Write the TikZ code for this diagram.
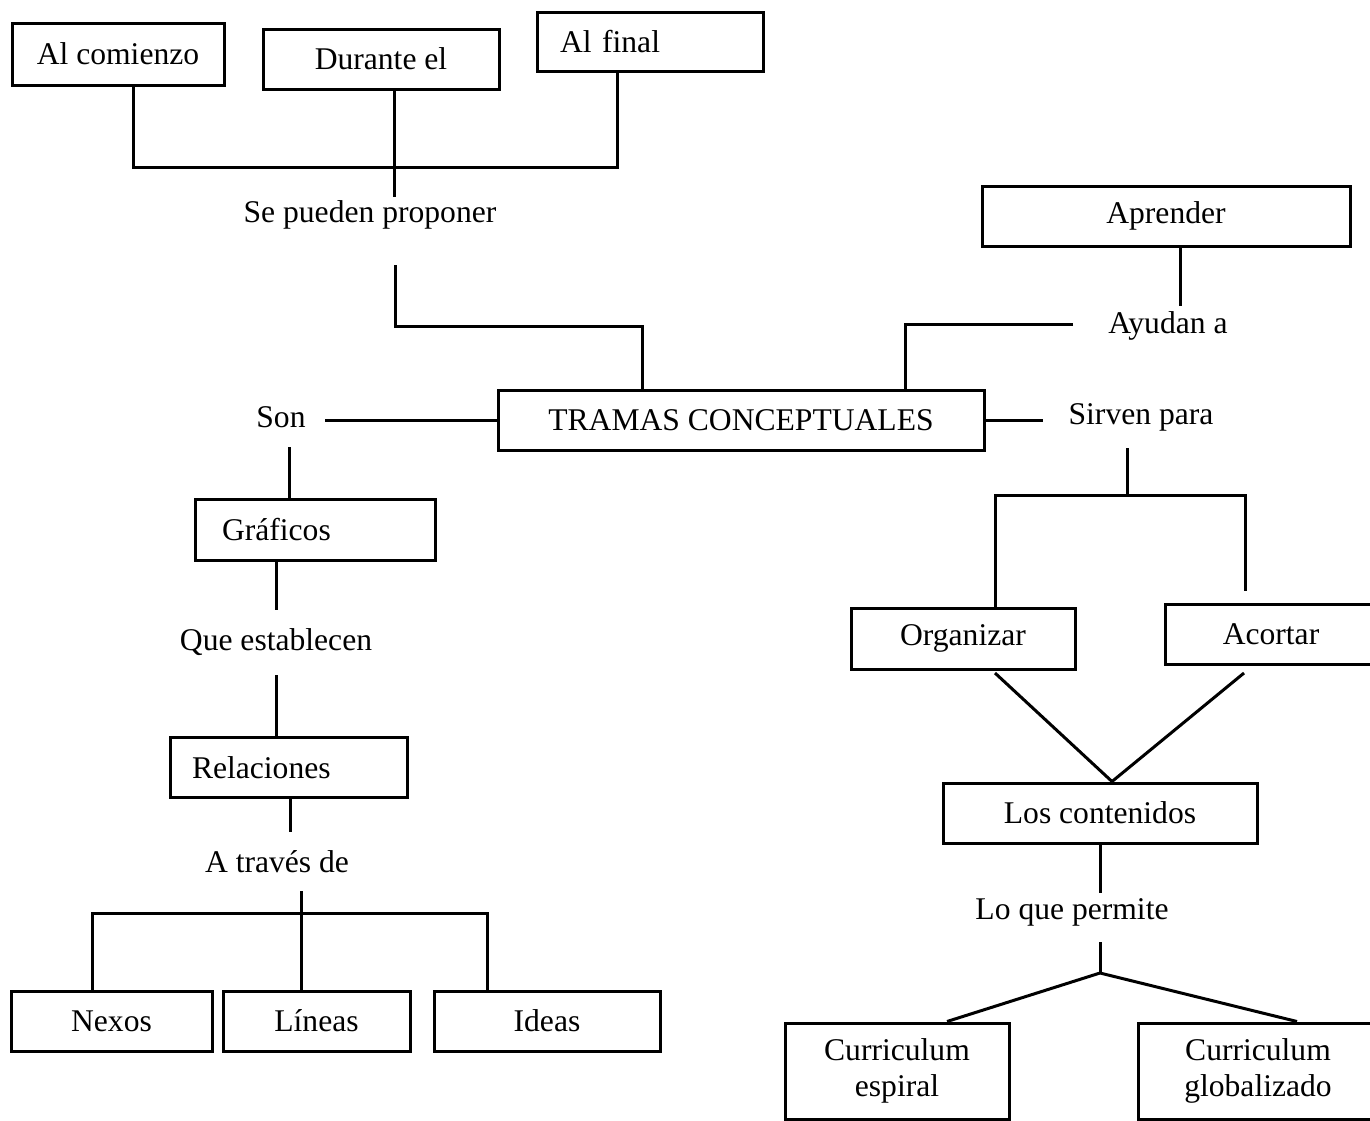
\documentclass[tikz,border=0pt]{standalone}
\usepackage{fontspec}
\setmainfont{Liberation Serif}
\usetikzlibrary{calc}
\begin{document}
\begin{tikzpicture}[x=0.5pt,y=-0.5pt,
  every node/.style={font=\fontsize{15.8}{18}\selectfont},
  box/.style={draw, line width=1.5pt, rectangle, inner sep=0pt, align=center, minimum height=30pt},
  tag/.style={inner sep=0pt, anchor=base},
  link/.style={line width=1.5pt}]
\useasboundingbox (0,0) rectangle (1370,1120);

% boxes
\node[box, minimum width=106pt, minimum height=31pt] (comienzo) at (118,54) {Al comienzo};
\node[box, minimum width=118pt] (durante) at (381,59) {Durante el};
\node[box, minimum width=113pt, minimum height=29.5pt, inner xsep=11.5pt, text width=90pt, align=left] (final) at (650,42) {Al final};
\node[box, minimum width=184pt] (aprender) at (1166,216) {Aprender};
\node[box, minimum width=243pt] (tramas) at (741,420) {TRAMAS CONCEPTUALES};
\node[box, minimum width=120pt, minimum height=30.5pt, inner xsep=13.5pt, text width=93pt, align=left] (graficos) at (315,529.5) {Gráficos};
\node[box, minimum width=118.5pt, inner xsep=11pt, text width=96.5pt, align=left] (relaciones) at (288.5,767.5) {Relaciones};
\node[box, minimum width=100.5pt] (nexos) at (111.5,1021) {Nexos};
\node[box, minimum width=93.5pt] (lineas) at (316.5,1021) {Líneas};
\node[box, minimum width=113pt] (ideas) at (547,1021) {Ideas};
\node[box, minimum width=112pt, minimum height=30.5pt] (organizar) at (963,638.5) {Organizar};
\node[box, minimum width=106pt] (acortar) at (1271,634.5) {Acortar};
\node[box, minimum width=157pt] (contenidos) at (1100,813) {Los contenidos};
\node[box, minimum width=112pt, minimum height=48pt] (espiral) at (897,1071) {Curriculum\\espiral};
\node[box, minimum width=120pt, minimum height=48pt] (globalizado) at (1258,1071) {Curriculum\\globalizado};

% linking words
\node[tag] (proponer) at (370,222) {Se pueden proponer};
\node[tag] (ayudan) at (1168,333) {Ayudan a};
\node[tag] (son) at (281,427) {Son};
\node[tag] (sirven) at (1141,424) {Sirven para};
\node[tag] (establecen) at (276,650) {Que establecen};
\node[tag] (traves) at (277,872) {A través de};
\node[tag] (permite) at (1072,919) {Lo que permite};

% junction points
\coordinate (b1) at (133,167);
\coordinate (b2) at (617,167);
\coordinate (d1) at (394,197);
\coordinate (p1) at (395,265);
\coordinate (p2) at (642,326);
\coordinate (a1) at (1180,306);
\coordinate (a2) at (1073,324);
\coordinate (a3) at (905,324);
\coordinate (s1) at (325,420);
\coordinate (r1) at (1043,420);
\coordinate (s2) at (289,447);
\coordinate (e1) at (276,610);
\coordinate (e2) at (276,675);
\coordinate (t1) at (290,832);
\coordinate (t2) at (301,891);
\coordinate (t3) at (92,913);
\coordinate (t4) at (487,913);
\coordinate (v1) at (1127,448);
\coordinate (v2) at (1127,495);
\coordinate (v3) at (995,495);
\coordinate (v4) at (1245,495);
\coordinate (v5) at (1245,591);
\coordinate (g1) at (995,673);
\coordinate (g2) at (1244,673);
\coordinate (l1) at (1100,893);
\coordinate (l2) at (1100,942);
\coordinate (l3) at (1100,973);

% connectors
\draw[link] (comienzo.south -| b1) -- (b1) -- (b2) -- (final.south -| b2);
\draw[link] (durante.south -| d1) -- (d1);
\draw[link] (p1) |- (p2) -- (tramas.north -| p2);
\draw[link] (aprender.south -| a1) -- (a1);
\draw[link] (a2) -- (a3) -- (tramas.north -| a3);
\draw[link] (s1) -- (tramas.west);
\draw[link] (tramas.east) -- (r1);
\draw[link] (s2) -- (s2 |- graficos.north);
\draw[link] (graficos.south -| e1) -- (e1);
\draw[link] (e2) -- (e2 |- relaciones.north);
\draw[link] (relaciones.south -| t1) -- (t1);
\draw[link] (t2) -- (t2 |- lineas.north);
\draw[link] (nexos.north -| t3) -- (t3) -- (t4) -- (ideas.north -| t4);
\draw[link] (v1) -- (v2);
\draw[link] (organizar.north -| v3) -- (v3) -- (v4) -- (v5);
\draw[link] (g1) -- ($(contenidos.north)+(12,0)$) -- (g2);
\draw[link] (contenidos.south -| l1) -- (l1);
\draw[link] (l2) -- (l3);
\draw[link] ($(espiral.north)+(50,0)$) -- (l3) -- ($(globalizado.north)+(39,0)$);
\end{tikzpicture}
\end{document}
